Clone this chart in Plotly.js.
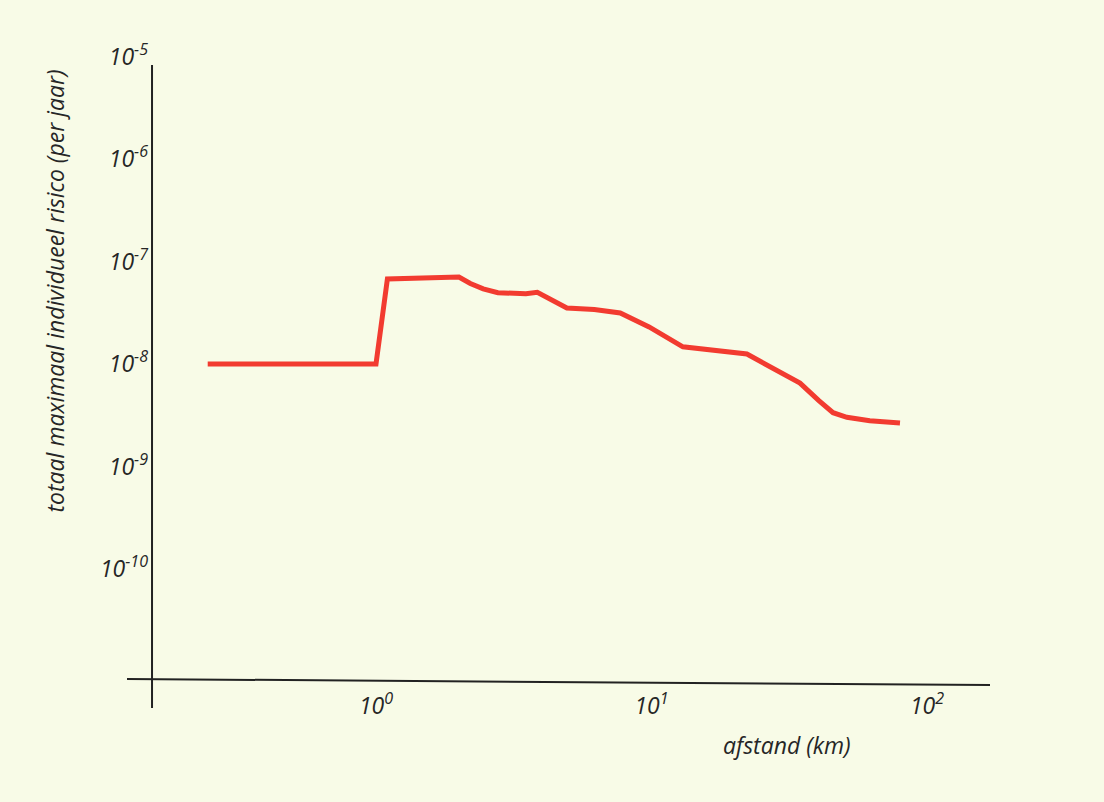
<!DOCTYPE html>
<html>
<head>
<meta charset="utf-8">
<script src="https://cdn.plot.ly/plotly-3.0.1.min.js"></script>
<style>
  html, body { margin: 0; padding: 0; background: #f8fbe7; }
  #chart { width: 1104px; height: 802px; }
</style>
</head>
<body>
<div id="chart"></div>
<script>
// Distance (km) and total maximum individual risk (per year)
const afstand = [0.245, 1.0, 1.1, 2.0, 2.2, 2.45, 2.77, 3.5, 3.85, 4.2, 4.93, 6.2, 7.7, 9.8, 13.0, 22.2, 27.5, 34.6, 40.5, 45.6, 51.2, 62.0, 79.8];
const risico  = [1.0e-8, 1.0e-8, 6.75e-8, 7.05e-8, 6.1e-8, 5.4e-8, 4.95e-8, 4.85e-8, 5.0e-8, 4.4e-8, 3.52e-8, 3.4e-8, 3.15e-8, 2.3e-8, 1.47e-8, 1.25e-8, 9.2e-9, 6.5e-9, 4.4e-9, 3.35e-9, 3.02e-9, 2.8e-9, 2.65e-9];

const xTickVals = [1, 10, 100];
const xTickText = ['10<sup>0</sup>', '10<sup>1</sup>', '10<sup>2</sup>'];
const yTickVals = [1e-10, 1e-9, 1e-8, 1e-7, 1e-6, 1e-5];
const yTickText = ['10<sup>-10</sup>', '10<sup>-9</sup>', '10<sup>-8</sup>', '10<sup>-7</sup>', '10<sup>-6</sup>', '10<sup>-5</sup>'];

const xTitle = 'afstand (km)';
const yTitle = 'totaal maximaal individueel risico (per jaar)';

const textColor = '#262626';
const fontFam = '"Open Sans", "Noto Sans", sans-serif';

const trace = {
  x: afstand,
  y: risico,
  type: 'scatter',
  mode: 'lines',
  line: { color: '#f23b30', width: 5, shape: 'linear' },
  hoverinfo: 'skip'
};

const layout = {
  width: 1104,
  height: 802,
  margin: { l: 100, r: 104, t: 40, b: 92 },
  paper_bgcolor: '#f8fbe7',
  plot_bgcolor: '#f8fbe7',
  showlegend: false,
  font: { family: fontFam, color: textColor, size: 20 },
  xaxis: {
    type: 'log',
    range: [-1.0018, 2.265],
    tickvals: xTickVals,
    ticktext: xTickText,
    showgrid: false,
    zeroline: false,
    showline: false,
    ticks: '',
    anchor: 'free',
    position: 0.0418,
    ticklabelstandoff: 8,
    tickfont: { family: fontFam, size: 23, color: textColor, style: 'italic' }
  },
  yaxis: {
    type: 'log',
    range: [-11.376, -4.839],
    tickvals: yTickVals,
    ticktext: yTickText,
    showgrid: false,
    zeroline: false,
    showline: false,
    ticks: '',
    anchor: 'free',
    position: 0.0578,
    ticklabelstandoff: 4,
    tickfont: { family: fontFam, size: 23, color: textColor, style: 'italic' }
  },
  shapes: [
    { type: 'line', xref: 'paper', yref: 'paper', x0: 0.0578, x1: 0.0578, y0: 0.9627, y1: 0.003,
      line: { color: '#222', width: 2 } },
    { type: 'line', xref: 'paper', yref: 'paper', x0: 0.030, x1: 0.9889, y0: 0.0463, y1: 0.0373,
      line: { color: '#222', width: 2 } }
  ],
  annotations: [
    { text: xTitle, xref: 'paper', yref: 'paper', x: 0.763, y: -0.052, showarrow: false,
      xanchor: 'center', yanchor: 'middle',
      font: { family: fontFam, size: 23, color: textColor, style: 'italic' } },
    { text: yTitle, xref: 'paper', yref: 'paper', x: -0.05, y: 0.6246, showarrow: false,
      textangle: -90, xanchor: 'center', yanchor: 'middle',
      font: { family: fontFam, size: 23, color: textColor, style: 'italic' } }
  ]
};

Plotly.newPlot('chart', [trace], layout, { displayModeBar: false, staticPlot: true });
</script>
</body>
</html>
